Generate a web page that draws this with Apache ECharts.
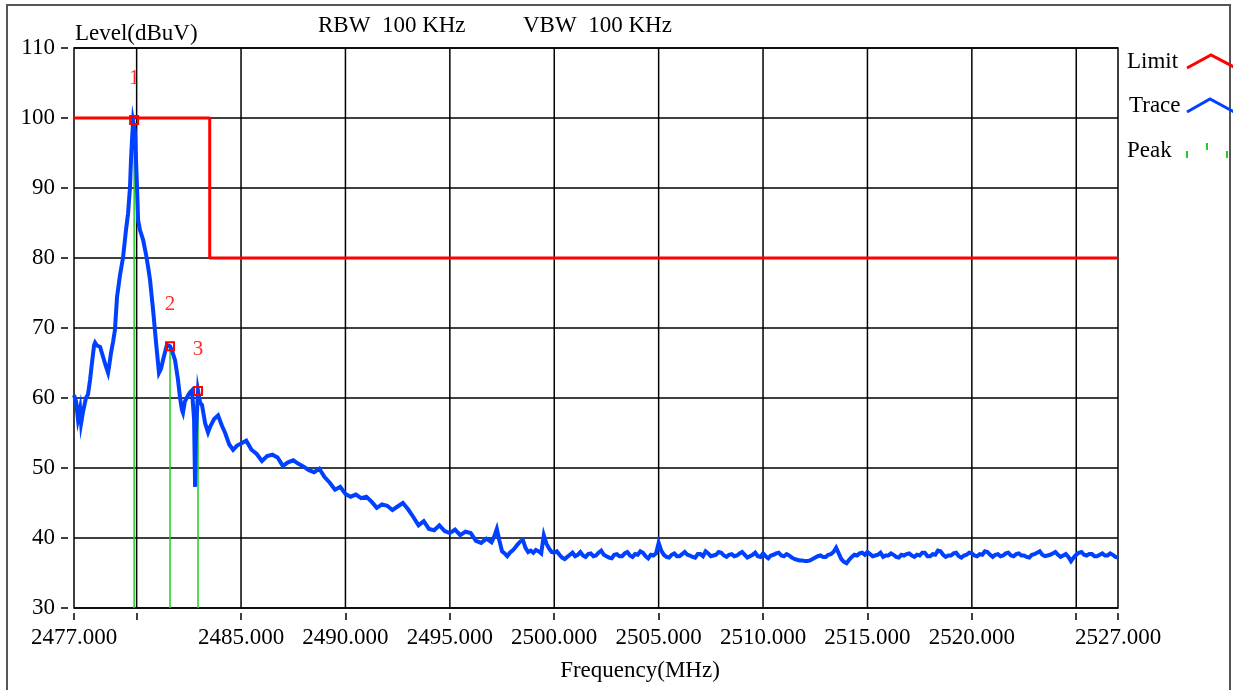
<!DOCTYPE html>
<html>
<head>
<meta charset="utf-8">
<script src="https://cdn.jsdelivr.net/npm/echarts@6/dist/echarts.min.js"></script>
<style>
  html, body { margin: 0; padding: 0; background: #fff; }
  #chart { width: 1233px; height: 690px; }
</style>
</head>
<body>
<div id="chart"></div>
<script>
// ---- axis setup ----
const freqMin = 2477, freqMax = 2527;
const levelMin = 30, levelMax = 110, levelStep = 10;
const gridFreqs = [2480, 2485, 2490, 2495, 2500, 2505, 2510, 2515, 2520, 2525];
const tickFreqs = [2477, 2480, 2485, 2490, 2495, 2500, 2505, 2510, 2515, 2520, 2525, 2527];
const labelFreqs = [2477, 2485, 2490, 2495, 2500, 2505, 2510, 2515, 2520, 2527];

// ---- limit line (dBuV) ----
const limitFreqs = [2477, 2483.5, 2483.5, 2527];
const limitLevels = [100, 100, 80, 80];

// ---- measured trace, close-in part (irregular points) ----
const nearFreqs = [
  2477.00, 2477.10, 2477.19, 2477.29, 2477.34, 2477.43, 2477.57, 2477.67, 2477.77, 2477.86,
  2477.96, 2478.01, 2478.10, 2478.25, 2478.39, 2478.53, 2478.63, 2478.68, 2478.77, 2478.87,
  2478.96, 2479.06, 2479.20, 2479.35, 2479.49, 2479.59, 2479.68, 2479.73, 2479.78, 2479.83,
  2479.88, 2479.92, 2479.97, 2480.02, 2480.07, 2480.16, 2480.31, 2480.45, 2480.55, 2480.64,
  2480.79, 2480.93, 2481.07, 2481.17, 2481.26, 2481.45, 2481.60, 2481.69, 2481.84, 2481.98,
  2482.08, 2482.17, 2482.22, 2482.31, 2482.41, 2482.55, 2482.65, 2482.75, 2482.80, 2482.84,
  2482.94, 2483.04, 2483.13, 2483.28, 2483.42, 2483.52, 2483.71, 2483.90, 2484.09, 2484.24,
  2484.43, 2484.62, 2484.81, 2485.00
];
const nearLevels = [
  60.4, 59.5, 57.0, 58.5, 56.4, 58.0, 60.0, 60.5, 62.6, 65.0,
  67.5, 67.9, 67.5, 67.3, 65.9, 64.5, 63.6, 64.5, 66.4, 68.0,
  69.7, 74.4, 77.5, 80.1, 84.0, 86.4, 90.0, 94.0, 97.0, 99.5,
  99.7, 98.0, 94.0, 90.0, 85.4, 84.0, 82.6, 80.5, 78.7, 76.9,
  72.5, 67.9, 63.6, 64.2, 65.4, 67.6, 67.4, 66.8, 65.4, 62.6,
  60.0, 58.3, 57.9, 59.5, 60.1, 60.8, 61.1, 57.0, 47.3, 55.0,
  61.0, 59.3, 59.0, 56.4, 55.1, 55.9, 57.0, 57.5, 56.0, 55.0,
  53.4, 52.6, 53.2, 53.5
];

// ---- sweep 2485.25 .. 2496.75 MHz, 0.25 MHz steps ----
const sweepAStart = 2485.25, sweepAStep = 0.25;
const sweepALevels = [
  53.9, 52.6, 52.0,
  51.0, 51.7, 51.9, 51.5,
  50.3, 50.8, 51.1, 50.6,
  50.2, 49.7, 49.4, 49.9,
  48.7, 47.9, 46.9, 47.3,
  46.3, 45.9, 46.2, 45.7,
  45.9, 45.2, 44.3, 44.8,
  44.6, 44.0, 44.5, 45.0,
  44.1, 43.0, 41.8, 42.4,
  41.3, 41.1, 41.8, 41.0,
  40.7, 41.2, 40.4, 40.9,
  40.7, 39.6, 39.3, 39.9
];

// ---- sweep 2497.000 .. 2527.000 MHz, 0.125 MHz steps ----
const sweepBStart = 2497, sweepBStep = 0.125;
const sweepBLevels = [
  39.4, 40.2, 41.3, 39.6, 38.1, 37.8, 37.4, 37.9,
  38.2, 38.6, 39.1, 39.5, 39.7, 38.6, 38.0, 38.2,
  37.9, 38.3, 38.1, 37.8, 40.4, 39.2, 38.5, 38.0,
  37.9, 38.1, 37.6, 37.2, 37.0, 37.3, 37.6, 37.9,
  37.4, 37.6, 38.0, 37.5, 37.3, 37.7, 37.8, 37.4,
  37.5, 37.9, 38.2, 37.6, 37.4, 37.2, 37.1, 37.6,
  37.7, 37.4, 37.4, 37.8, 38.0, 37.5, 37.3, 37.7,
  37.6, 38.1, 37.9, 37.4, 37.1, 37.6, 37.5, 37.8,
  39.3, 38.2, 37.6, 37.3, 37.2, 37.6, 37.8, 37.4,
  37.4, 37.7, 38.0, 37.6, 37.5, 37.3, 37.2, 37.7,
  37.7, 37.4, 38.1, 37.8, 37.4, 37.5, 37.6, 38.0,
  37.9, 37.5, 37.3, 37.6, 37.7, 37.4, 37.5, 37.8,
  38.0, 37.6, 37.2, 37.4, 37.6, 37.9, 37.4, 37.3,
  37.8, 37.4, 37.1, 37.5, 37.6, 37.8, 37.9, 37.5,
  37.4, 37.7, 37.5, 37.2, 37.0, 36.9, 36.8, 36.8,
  36.7, 36.7, 36.8, 37.0, 37.2, 37.4, 37.5, 37.3,
  37.3, 37.6, 37.7, 38.0, 38.6, 37.8, 37.0, 36.6,
  36.4, 36.9, 37.3, 37.6, 37.5, 37.8, 37.9, 37.6,
  38.0, 37.7, 37.4, 37.5, 37.6, 37.9, 37.3, 37.5,
  37.5, 37.8, 37.6, 37.3, 37.2, 37.6, 37.5, 37.7,
  37.8, 37.5, 37.3, 37.6, 37.5, 37.9, 37.9, 37.4,
  37.4, 37.7, 37.6, 38.2, 38.1, 37.6, 37.3, 37.5,
  37.5, 37.8, 37.9, 37.4, 37.2, 37.5, 37.6, 37.9,
  37.8, 37.5, 37.4, 37.7, 37.6, 38.1, 38.0, 37.6,
  37.3, 37.6, 37.7, 37.4, 37.5, 37.8, 37.9, 37.5,
  37.4, 37.7, 37.8, 37.5, 37.5, 37.3, 37.2, 37.6,
  37.7, 37.9, 38.1, 37.6, 37.4, 37.5, 37.6, 37.8,
  38.0, 37.6, 37.3, 37.5, 37.7, 37.3, 36.7, 37.2,
  37.6, 37.9, 38.0, 37.6, 37.5, 37.7, 37.7, 37.4,
  37.4, 37.6, 37.8, 37.5, 37.5, 37.8, 37.6, 37.3,
  37.2
];

// ---- marked peaks ----
const peakFreqs = [2479.88, 2481.60, 2482.94];
const peakLevels = [99.7, 67.4, 61.0];
const peakNames = ['1', '2', '3'];

// ---- header texts ----
const rbwText = 'RBW  100 KHz';
const vbwText = 'VBW  100 KHz';

const FONT = '"Liberation Serif", "Times New Roman", serif';
const FS = 23;
const RED = '#ff0000', BLUE = '#0040ff', GREEN = '#22cc22';

const sweepPoints = (start, step, levels) =>
  levels.map((v, i) => [+(start + i * step).toFixed(3), v]);
const traceData = nearFreqs.map((f, i) => [f, nearLevels[i]])
  .concat(sweepPoints(sweepAStart, sweepAStep, sweepALevels))
  .concat(sweepPoints(sweepBStart, sweepBStep, sweepBLevels));
const limitData = limitFreqs.map((f, i) => [f, limitLevels[i]]);
const peakData = peakFreqs.map((f, i) => [f, peakLevels[i]]);

const chart = echarts.init(document.getElementById('chart'), null, { renderer: 'canvas' });

chart.setOption({
  animation: false,
  backgroundColor: '#fff',
  textStyle: { fontFamily: FONT, color: '#000' },
  grid: {
    left: 74, right: 115, top: 48, bottom: 82,
    show: true, borderColor: '#000', borderWidth: 1.5, backgroundColor: '#fff'
  },
  xAxis: {
    type: 'value', min: freqMin, max: freqMax, offset: 5,
    name: 'Frequency(MHz)', nameLocation: 'middle', nameGap: 46,
    nameTextStyle: { fontFamily: FONT, fontSize: FS, color: '#000', padding: [0, 0, 0, 88] },
    axisLine: { show: false },
    axisTick: { show: true, length: 7, customValues: tickFreqs, lineStyle: { color: '#000', width: 1.5 } },
    axisLabel: {
      customValues: labelFreqs, margin: 13, hideOverlap: false,
      fontFamily: FONT, fontSize: FS, color: '#000',
      formatter: v => Number(v).toFixed(3)
    },
    splitLine: { show: false }
  },
  yAxis: {
    type: 'value', min: levelMin, max: levelMax, interval: levelStep, offset: 6,
    name: 'Level(dBuV)', nameLocation: 'end', nameGap: 3,
    nameTextStyle: { fontFamily: FONT, fontSize: FS, color: '#000', align: 'left', verticalAlign: 'bottom', padding: [0, 0, 0, 7] },
    axisLine: { show: false },
    axisTick: { show: true, length: 7, lineStyle: { color: '#000', width: 1.5 } },
    axisLabel: { margin: 13, fontFamily: FONT, fontSize: FS, color: '#000' },
    splitLine: { show: true, lineStyle: { color: '#000', width: 1.5 } }
  },
  graphic: [
    // outer frame
    { type: 'rect', shape: { x: 7, y: 5, width: 1223, height: 700 }, style: { fill: 'none', stroke: '#555', lineWidth: 2 }, z: 0 },
    { type: 'text', left: 318, top: 14, style: { text: rbwText, font: FS + 'px ' + FONT, fill: '#000' } },
    { type: 'text', left: 523, top: 14, style: { text: vbwText, font: FS + 'px ' + FONT, fill: '#000' } },
    // legend
    { type: 'text', left: 1127, top: 50, style: { text: 'Limit', font: FS + 'px ' + FONT, fill: '#000' } },
    { type: 'text', left: 1129, top: 94, style: { text: 'Trace', font: FS + 'px ' + FONT, fill: '#000' } },
    { type: 'text', left: 1127, top: 139, style: { text: 'Peak', font: FS + 'px ' + FONT, fill: '#000' } },
    { type: 'polyline', shape: { points: [[1187, 68], [1211, 55], [1236, 68]] }, style: { stroke: RED, lineWidth: 3, fill: 'none' } },
    { type: 'polyline', shape: { points: [[1187, 112], [1210, 99], [1236, 113]] }, style: { stroke: BLUE, lineWidth: 3, fill: 'none' } },
    { type: 'line', shape: { x1: 1187, y1: 151, x2: 1187, y2: 158 }, style: { stroke: GREEN, lineWidth: 2 } },
    { type: 'line', shape: { x1: 1207, y1: 143, x2: 1207, y2: 150 }, style: { stroke: GREEN, lineWidth: 2 } },
    { type: 'line', shape: { x1: 1227, y1: 151, x2: 1227, y2: 158 }, style: { stroke: GREEN, lineWidth: 2 } }
  ],
  series: [
    {
      // vertical grid lines
      name: 'grid', type: 'custom', z: 1, silent: true,
      data: gridFreqs.map(f => [f]),
      renderItem: (params, api) => {
        const a = api.coord([api.value(0), levelMin]);
        const b = api.coord([api.value(0), levelMax]);
        return { type: 'line', shape: { x1: a[0], y1: a[1], x2: b[0], y2: b[1] }, style: { stroke: '#000', lineWidth: 1.5 } };
      }
    },
    {
      // green peak drop lines
      name: 'Peak', type: 'custom', z: 2, silent: true,
      data: peakData,
      renderItem: (params, api) => {
        const a = api.coord([api.value(0), api.value(1)]);
        const b = api.coord([api.value(0), levelMin]);
        return { type: 'line', shape: { x1: a[0], y1: a[1] + 4, x2: b[0], y2: b[1] }, style: { stroke: GREEN, lineWidth: 1.5 } };
      }
    },
    {
      name: 'Limit', type: 'line', z: 3, silent: true,
      data: limitData, showSymbol: false, symbol: 'none',
      lineStyle: { color: RED, width: 3 }
    },
    {
      name: 'Trace', type: 'line', z: 4, silent: true,
      data: traceData, showSymbol: false, symbol: 'none',
      lineStyle: { color: BLUE, width: 4, join: 'miter' }
    },
    {
      // peak markers with their numbers
      name: 'PeakMark', type: 'custom', z: 5, silent: true,
      data: peakData,
      renderItem: (params, api) => {
        const p = api.coord([api.value(0), api.value(1)]);
        return {
          type: 'group',
          children: [
            { type: 'rect', shape: { x: p[0] - 4, y: p[1] - 4, width: 8, height: 8 }, style: { fill: 'none', stroke: RED, lineWidth: 2 } },
            { type: 'text', x: p[0], y: p[1] - 42, style: { text: peakNames[params.dataIndex], font: '21px ' + FONT, fill: '#ff2a2a', align: 'center', verticalAlign: 'middle' } }
          ]
        };
      }
    }
  ]
});
</script>
</body>
</html>
